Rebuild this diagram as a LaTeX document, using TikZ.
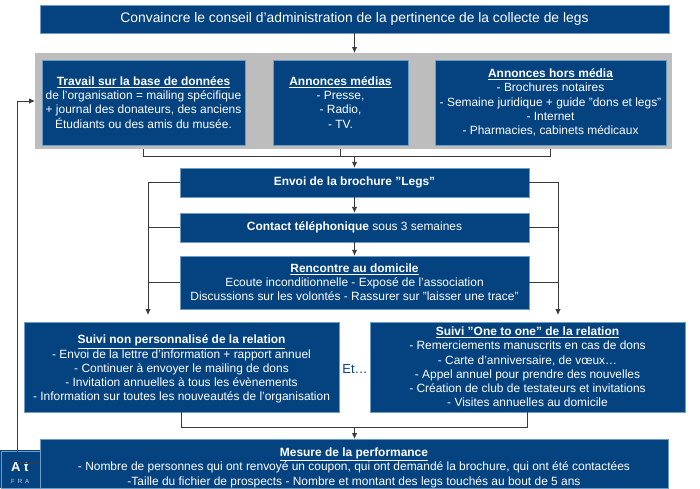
\documentclass[tikz,border=0pt]{standalone}
\usepackage{fontspec}
\setmainfont{Liberation Sans}
\definecolor{navy}{HTML}{04437F}
\definecolor{panel}{HTML}{BDBDBD}
\definecolor{edge}{HTML}{6F9CC4}
\definecolor{wire}{HTML}{3A3A3A}
\usetikzlibrary{arrows.meta}
\tikzset{
 x=1pt,y=-1pt,
 box/.style={fill=navy,draw=edge,line width=0.4pt,text=white,align=center,inner sep=0pt,font=\fontsize{11.95}{14.2}\selectfont,anchor=center},
 wirep/.style={draw=wire,line width=0.9pt},
 arr/.style={wirep,-{Latex[length=6pt,width=5.5pt]}},
}
\newcommand{\hd}[1]{\textbf{\underline{#1}}}
\begin{document}
\begin{tikzpicture}
\useasboundingbox (0,0) rectangle (700,488);
\fill[white] (0,0) rectangle (700,488);
% logo
\fill[navy] (0,450) rectangle (41,488);
\draw[edge,line width=0.5pt] (1,451) rectangle (41,488);
\node[text=white,font=\bfseries\fontsize{13}{13}\selectfont,anchor=west,inner sep=0pt] (logoa) at (11,467) {A t};
\node[text=white!75!navy,font=\fontsize{6}{6}\selectfont,anchor=west,inner sep=0pt] (logob) at (11,481) {F\hspace{3pt}R\hspace{3pt}A};
% gray panel
\node[fill=panel,minimum width=637pt,minimum height=96pt,inner sep=0pt,anchor=north west] (panel) at (35,53) {};
% boxes
\node[box,minimum width=629pt,minimum height=27.5pt,font=\fontsize{13.85}{15}\selectfont] (top) at (354.5,19) {Convaincre le conseil d’administration de la pertinence de la collecte de legs};
\node[box,minimum width=203pt,minimum height=85pt] (b1) at (143.5,102.5) {\hd{Travail sur la base de données}\\de l’organisation = mailing spécifique\\+ journal des donateurs, des anciens\\Étudiants ou des amis du musée.};
\node[box,minimum width=135pt,minimum height=85pt] (b2) at (340.5,102.5) {\hd{Annonces médias}\\- Presse,\\- Radio,\\- TV.};
\node[box,minimum width=231pt,minimum height=85pt] (b3) at (550.5,102.5) {\hd{Annonces hors média}\\- Brochures notaires\\- Semaine juridique + guide "dons et legs"\\- Internet\\- Pharmacies, cabinets médicaux};
\node[box,minimum width=349pt,minimum height=29pt] (envoi) at (354.5,182.5) {\textbf{Envoi de la brochure "Legs"}};
\node[box,minimum width=349pt,minimum height=29pt] (contact) at (354.5,227.5) {\textbf{Contact téléphonique} sous 3 semaines};
\node[box,minimum width=349pt,minimum height=53pt] (renc) at (354.5,282.5) {\hd{Rencontre au domicile}\\Ecoute inconditionnelle - Exposé de l'association\\Discussions sur les volontés - Rassurer sur "laisser une trace"};
\node[box,minimum width=315pt,minimum height=90pt] (sl) at (181.5,367) {\rule{0pt}{13pt}\hd{Suivi non personnalisé de la relation}\\- Envoi de la lettre d'information + rapport annuel\\- Continuer à envoyer le mailing de dons\\- Invitation annuelles à tous les évènements\\- Information sur toutes les nouveautés de l’organisation};
\node[box,minimum width=315pt,minimum height=90pt] (sr) at (527.5,367) {\hd{Suivi "One to one" de la relation}\\- Remerciements manuscrits en cas de dons\\- Carte d’anniversaire, de vœux…\\- Appel annuel pour prendre des nouvelles\\- Création de club de testateurs et invitations\\- Visites annuelles au domicile};
\node[box,minimum width=628pt,minimum height=49pt,anchor=north] (mes) at (354,439) {\rule{0pt}{17pt}\hd{Mesure de la performance}\\- Nombre de personnes qui ont renvoyé un coupon, qui ont demandé la brochure, qui ont été contactées\\-Taille du fichier de prospects  - Nombre et montant des legs touchés au bout de 5 ans};
\node[text=navy,font=\fontsize{13}{14}\selectfont,inner sep=0pt] (et) at (355,369) {Et…};
% junction coordinates
\coordinate (j1) at (354.5,156);
\coordinate (j2) at (354.5,427);
\coordinate (cl) at (148,315);
\coordinate (cr) at (558,315);
\coordinate (fb) at (17,101);
% connectors
\draw[arr] (top.south -| j1) -- (panel.north -| j1);
\draw[wirep] (b1.south |- panel.south) |- (j1 -| b3.south) -- (b3.south |- panel.south);
\draw[wirep] (340,149) -- (340,156);
\draw[arr] (j1) -- (envoi.north);
\draw[arr] (envoi.south) -- (contact.north);
\draw[arr] (contact.south) -- (renc.north);
\draw[arr] (envoi.west) -| (cl);
\draw[wirep] (contact.west) -- (contact.west -| cl);
\draw[wirep] (renc.west) -- (renc.west -| cl);
\draw[arr] (envoi.east) -| (cr);
\draw[wirep] (contact.east) -- (contact.east -| cr);
\draw[wirep] (renc.east) -- (renc.east -| cr);
\draw[wirep] (sl.south) |- (j2) -| (sr.south);
\draw[arr] (j2) -- (mes.north -| j2);
\draw[arr] (mes.west) -| (fb) -- (panel.west |- fb);
\end{tikzpicture}
\end{document}
